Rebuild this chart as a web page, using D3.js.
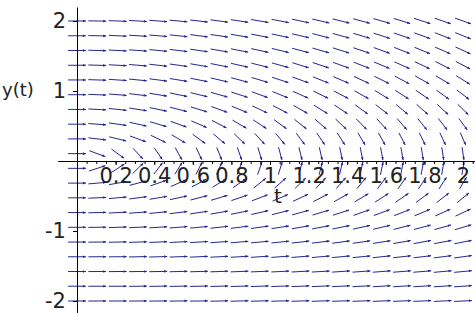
<!DOCTYPE html>
<html>
<head>
<meta charset="utf-8">
<script src="https://cdn.jsdelivr.net/npm/d3@7.9.0/dist/d3.min.js"></script>
<style>
  html, body { margin: 0; padding: 0; background: #fff; }
  svg { display: block; }
  text { font-family: "DejaVu Sans", sans-serif; fill: #222; }
</style>
</head>
<body>
<svg id="chart"></svg>
<script>
// grid of the direction field (t across, y up)
const tValues = [0, 0.105, 0.211, 0.316, 0.421, 0.526, 0.632, 0.737, 0.842, 0.947,
                 1.053, 1.158, 1.263, 1.368, 1.474, 1.579, 1.684, 1.789, 1.895, 2];
const yValues = [-2, -1.789, -1.579, -1.368, -1.158, -0.947, -0.737, -0.526, -0.316, -0.105,
                 0.105, 0.316, 0.526, 0.737, 0.947, 1.158, 1.368, 1.579, 1.789, 2];

// slope dy/dt read at each grid point, one row per y value (bottom to top)
const slopeRows = [
  [0, .01, .01, .02, .03, .04, .04, .05, .06, .06, .07, .08, .09, .09, .1, .11, .11, .12, .13, .14],
  [0, .01, .02, .03, .04, .05, .06, .07, .08, .09, .1, .11, .12, .13, .14, .15, .16, .17, .18, .19],
  [0, .01, .03, .04, .05, .07, .08, .1, .11, .12, .14, .15, .16, .18, .19, .21, .22, .23, .25, .26],
  [0, .02, .04, .06, .08, .1, .12, .14, .16, .18, .2, .22, .24, .25, .27, .29, .31, .33, .35, .37],
  [0, .03, .06, .09, .11, .14, .17, .2, .23, .26, .29, .31, .34, .37, .4, .43, .46, .49, .51, .54],
  [0, .04, .09, .13, .17, .22, .26, .3, .34, .39, .43, .47, .52, .56, .6, .65, .69, .73, .78, .82],
  [0, .07, .14, .21, .27, .34, .41, .48, .55, .62, .68, .75, .82, .89, .96, 1.03, 1.09, 1.16, 1.23, 1.3],
  [0, .12, .24, .36, .47, .59, .71, .83, .95, 1.06, 1.18, 1.3, 1.42, 1.54, 1.66, 1.77, 1.89, 2.01, 2.13, 2.25],
  [0, .24, .49, .73, .97, 1.21, 1.46, 1.7, 1.94, 2.19, 2.43, 2.67, 2.91, 3.16, 3.4, 3.64, 3.89, 4.13, 4.37, 4.61],
  [0, .9, 1.8, 2.7, 3.6, 4.5, 5.4, 6.3, 7.2, 8.1, 9, 9.9, 10.8, 11.7, 12.6, 13.5, 14.4, 15.3, 16.2, 17.1],
  [0, -1, -2, -3, -4, -5, -6, -7, -8, -9, -10, -11, -12, -13, -14, -15, -16, -17, -18, -19],
  [0, -.33, -.67, -1, -1.33, -1.67, -2, -2.33, -2.67, -3, -3.33, -3.67, -4, -4.33, -4.67, -5, -5.33, -5.67, -6, -6.33],
  [0, -.2, -.4, -.6, -.8, -1, -1.2, -1.4, -1.6, -1.8, -2, -2.2, -2.4, -2.6, -2.8, -3, -3.2, -3.4, -3.6, -3.8],
  [0, -.14, -.29, -.43, -.57, -.71, -.86, -1, -1.14, -1.29, -1.43, -1.57, -1.71, -1.86, -2, -2.14, -2.29, -2.43, -2.57, -2.71],
  [0, -.11, -.22, -.33, -.44, -.56, -.67, -.78, -.89, -1, -1.11, -1.22, -1.33, -1.44, -1.56, -1.67, -1.78, -1.89, -2, -2.11],
  [0, -.09, -.18, -.27, -.36, -.45, -.55, -.64, -.73, -.82, -.91, -1, -1.09, -1.18, -1.27, -1.36, -1.45, -1.55, -1.64, -1.73],
  [0, -.08, -.15, -.23, -.31, -.38, -.46, -.54, -.62, -.69, -.77, -.85, -.92, -1, -1.08, -1.15, -1.23, -1.31, -1.38, -1.46],
  [0, -.07, -.13, -.2, -.27, -.33, -.4, -.47, -.53, -.6, -.67, -.73, -.8, -.87, -.93, -1, -1.07, -1.13, -1.2, -1.27],
  [0, -.06, -.12, -.18, -.24, -.29, -.35, -.41, -.47, -.53, -.59, -.65, -.71, -.76, -.82, -.88, -.94, -1, -1.06, -1.12],
  [0, -.05, -.11, -.16, -.21, -.26, -.32, -.37, -.42, -.47, -.53, -.58, -.63, -.68, -.74, -.79, -.84, -.89, -.95, -1]
];

// tick values and labels
const tTicks = [0.2, 0.4, 0.6, 0.8, 1, 1.2, 1.4, 1.6, 1.8, 2];
const tTickLabels = ["0.2", "0.4", "0.6", "0.8", "1", "1.2", "1.4", "1.6", "1.8", "2"];
const tMinorTicks = d3.range(0.05, 2.06, 0.05);
const yTicks = [-2, -1, 1, 2];
const yTickLabels = ["-2", "-1", "1", "2"];

const W = 475, H = 313;
const svg = d3.select("#chart").attr("width", W).attr("height", H);

const x = d3.scaleLinear().domain([-0.1, 2.1]).range([57.7, 482.3]);
const y = d3.scaleLinear().domain([-2.2, 2.2]).range([315, 7]);

const arrowColor = "#26268f";

// arrows
const cellW = x(tValues[1]) - x(tValues[0]);
const cellH = y(yValues[0]) - y(yValues[1]);
const len = 0.88;

const cells = [];
yValues.forEach((yv, i) => {
    tValues.forEach((tv, j) => {
        cells.push({ t: tv, y: yv, s: slopeRows[i][j] });
    });
});

const field = svg.append("g");

cells.forEach(d => {
    // direction in cell units, then back to pixels
    const u = 1 / (tValues[1] - tValues[0]);
    const v = d.s / (yValues[1] - yValues[0]);
    const n = Math.hypot(u, v);
    const dx = (u / n) * len * cellW;
    const dy = -(v / n) * len * cellH;
    const cx = x(d.t), cy = y(d.y);
    const x1 = cx - dx / 2, y1 = cy - dy / 2;
    const x2 = cx + dx / 2, y2 = cy + dy / 2;

    field.append("line")
        .attr("x1", x1).attr("y1", y1)
        .attr("x2", x2).attr("y2", y2)
        .attr("stroke", arrowColor)
        .attr("stroke-width", 1);

    // small head
    const L = Math.hypot(dx, dy);
    const ux = dx / L, uy = dy / L;
    const hl = 3, hw = 1.3;
    const bx = x2 - ux * hl, by = y2 - uy * hl;
    field.append("path")
        .attr("d", `M${x2},${y2}L${bx - uy * hw},${by + ux * hw}L${bx + uy * hw},${by - ux * hw}Z`)
        .attr("fill", arrowColor);
});

// t axis
svg.append("g")
    .attr("transform", `translate(0,${y(0)})`)
    .call(d3.axisBottom(x).tickValues(tMinorTicks).tickSize(3).tickSizeOuter(0).tickFormat(""))
    .call(g => g.select(".domain").remove());

const xAxis = svg.append("g")
    .attr("transform", `translate(0,${y(0)})`)
    .call(d3.axisBottom(x)
        .tickValues(tTicks)
        .tickSize(4)
        .tickSizeOuter(0)
        .tickPadding(3)
        .tickFormat((d, i) => tTickLabels[i]));
xAxis.selectAll("text").style("font-size", "21px").attr("fill", "#222");

// y axis
const yAxis = svg.append("g")
    .attr("transform", `translate(${x(0)},0)`)
    .call(d3.axisLeft(y)
        .tickValues(yTicks)
        .tickSize(4)
        .tickSizeOuter(0)
        .tickPadding(7)
        .tickFormat((d, i) => yTickLabels[i]));
yAxis.selectAll("text").style("font-size", "21px").attr("fill", "#222");

svg.selectAll(".domain").attr("stroke", "#000");
svg.selectAll(".tick line").attr("stroke", "#000");

// axis labels
svg.append("text")
    .attr("x", 2)
    .attr("y", y(1) + 5)
    .style("font-size", "18px")
    .text("y(t)");

svg.append("text")
    .attr("x", 278)
    .attr("y", 203)
    .attr("text-anchor", "middle")
    .style("font-size", "20px")
    .text("t");
</script>
</body>
</html>
